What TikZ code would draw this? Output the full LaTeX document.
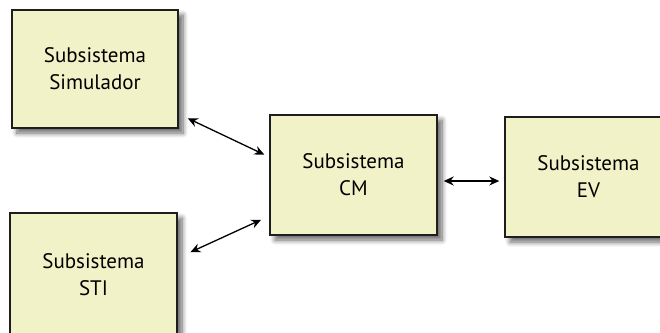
\documentclass[tikz,border=0pt]{standalone}
\usepackage{fontspec}
\setmainfont{PT Sans}
\usetikzlibrary{arrows.meta,shadows.blur}
\definecolor{boxfill}{RGB}{242,242,200}
\definecolor{boxline}{RGB}{30,30,30}
\begin{document}
\begin{tikzpicture}[x=1pt,y=-1pt,
  subsys/.style={draw=boxline,line width=1.4pt,fill=boxfill,align=center,
    inner sep=0pt,font=\fontsize{21}{27}\selectfont,
    blur shadow={shadow xshift=5pt,shadow yshift=-5pt,shadow blur steps=8,shadow blur radius=5pt,shadow opacity=60}},
  link/.style={{Stealth[length=10pt,width=9pt]}-{Stealth[length=10pt,width=9pt]},line width=1.3pt}]
\useasboundingbox (0,0) rectangle (660,332);
\clip (0,0) rectangle (660,332);
% vertices
\node[subsys,minimum width=166pt,minimum height=118pt] (sim) at (95,69) {Subsistema\\Simulador};
\node[subsys,minimum width=167pt,minimum height=120pt] (cm) at (353.5,175) {Subsistema\\CM};
\node[subsys,minimum width=167pt,minimum height=120pt] (ev) at (588.5,177) {Subsistema\\EV};
\node[subsys,minimum width=167pt,minimum height=124pt] (sti) at (93.5,275) {Subsistema\\STI};
%edges
\draw[link,shorten <=10pt,shorten >=5.5pt] ([yshift=-45pt]sim.east) -- ([yshift=18pt]cm.west);
\draw[link,shorten <=14pt,shorten >=9pt] ([yshift=17pt]sti.east) -- ([yshift=-41pt]cm.west);
\draw[link,shorten <=6pt,shorten >=5pt] ([yshift=-6pt]cm.east) -- ([yshift=-4pt]ev.west);
\end{tikzpicture}
\end{document}
